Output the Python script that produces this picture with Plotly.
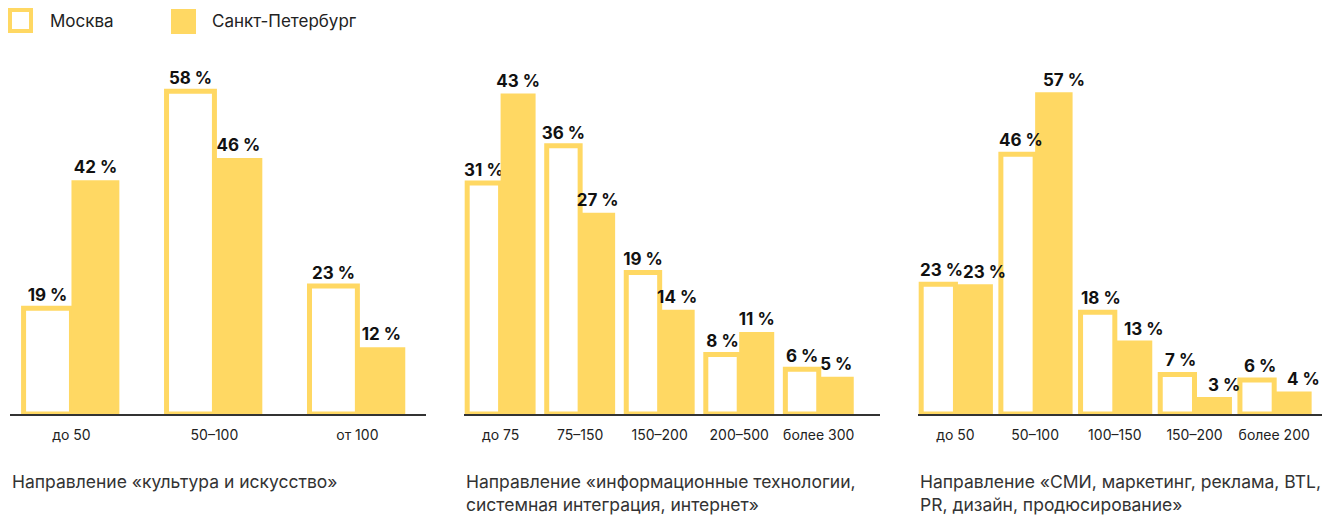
import plotly.graph_objects as go

# ---- data ----
series_names = ["Москва", "Санкт-Петербург"]

cats_culture = ["до 50", "50–100", "от 100"]
msk_culture = [19, 58, 23]
spb_culture = [42, 46, 12]
title_culture = "Направление «культура и искусство»"

cats_it = ["до 75", "75–150", "150–200", "200–500", "более 300"]
msk_it = [31, 36, 19, 8, 6]
spb_it = [43, 27, 14, 11, 5]
title_it = "Направление «информационные технологии,<br>системная интеграция, интернет»"

cats_media = ["до 50", "50–100", "100–150", "150–200", "более 200"]
msk_media = [23, 46, 18, 7, 6]
spb_media = [23, 57, 13, 3, 4]
title_media = "Направление «СМИ, маркетинг, реклама, BTL,<br>PR, дизайн, продюсирование»"

# ---- style ----
W, H = 1322, 515
YELLOW = "#FFD863"
FONT = "Inter"

panels = [
    dict(cats=cats_culture, msk=msk_culture, spb=spb_culture, title=title_culture,
         px=(10, 426), xr=[-0.43, 2.48], yr=[0, 63.6], wm=0.335, ws=0.335, ann=False),
    dict(cats=cats_it, msk=msk_it, spb=spb_it, title=title_it,
         px=(464, 880), xr=[-0.46, 4.77], yr=[0, 47.5], wm=0.42, ws=0.44, ann=False),
    dict(cats=cats_media, msk=msk_media, spb=spb_media, title=title_media,
         px=(918, 1322), xr=[-0.47, 4.6], yr=[0, 62.7], wm=0.43, ws=0.47, ann=True),
]

y_dom = [(H - 414) / H, (H - 60) / H]

fig = go.Figure()
layout = dict(
    width=W, height=H, margin=dict(l=0, r=0, t=0, b=0),
    paper_bgcolor="white", plot_bgcolor="white",
    showlegend=False, barmode="overlay",
    font=dict(family=FONT, color="#222"),
    shapes=[], annotations=[],
)

label_font = dict(family=FONT, size=17, color="#111", weight=700)

for i, p in enumerate(panels):
    n = "" if i == 0 else str(i + 1)
    xa, ya = "x" + n, "y" + n
    tt = None if p["ann"] else "%{y} %"
    fig.add_trace(go.Bar(
        x=p["cats"], y=p["msk"], name=series_names[0], xaxis=xa, yaxis=ya,
        width=p["wm"], offset=-p["wm"],
        marker=dict(color="white", line=dict(color=YELLOW, width=5)),
        texttemplate=tt, textposition="outside" if tt else "none", textfont=label_font,
        cliponaxis=False, constraintext="none", hoverinfo="skip",
    ))
    fig.add_trace(go.Bar(
        x=p["cats"], y=p["spb"], name=series_names[1], xaxis=xa, yaxis=ya,
        width=p["ws"], offset=0,
        marker=dict(color=YELLOW, line=dict(width=0)),
        texttemplate=tt, textposition="outside" if tt else "none", textfont=label_font,
        cliponaxis=False, constraintext="none", hoverinfo="skip",
    ))
    if p["ann"]:
        # value labels as annotations anchored to the data (slightly shifted like the original)
        for vals, dx, dy in ((p["msk"], -14, 2), (p["spb"], 29, 0)):
            for c, v in zip(p["cats"], vals):
                layout["annotations"].append(dict(
                    text=f"{v} %", xref=xa, yref=ya, x=c, y=v,
                    xanchor="center", yanchor="bottom", xshift=dx, yshift=dy,
                    showarrow=False, font=label_font,
                ))
    layout["xaxis" + n] = dict(
        domain=[p["px"][0] / W, p["px"][1] / W], anchor=ya,
        type="category", range=p["xr"],
        showline=True, linecolor="#333", linewidth=2,
        showgrid=False, zeroline=False, ticks="",
        tickfont=dict(family=FONT, size=14, color="#222"),
        ticklabelstandoff=7, fixedrange=True,
    )
    layout["yaxis" + n] = dict(
        domain=y_dom, anchor=xa, range=p["yr"],
        visible=False, showgrid=False, zeroline=False, fixedrange=True,
    )
    layout["annotations"].append(dict(
        text=p["title"], xref="paper", yref="paper",
        x=p["px"][0] / W, y=(H - 469) / H, xanchor="left", yanchor="top",
        align="left", showarrow=False,
        font=dict(family=FONT, size=17.5, color="#333"),
    ))

# ---- legend (drawn manually) ----
def px2paper(x, y):
    return x / W, 1 - y / H

x0, y0 = px2paper(10, 10); x1, y1 = px2paper(31, 31)
layout["shapes"].append(dict(type="rect", xref="paper", yref="paper",
                             x0=x0, y0=y0, x1=x1, y1=y1,
                             line=dict(color=YELLOW, width=4), fillcolor="white"))
x0, y0 = px2paper(171, 9); x1, y1 = px2paper(196, 34)
layout["shapes"].append(dict(type="rect", xref="paper", yref="paper",
                             x0=x0, y0=y0, x1=x1, y1=y1,
                             line=dict(width=0), fillcolor=YELLOW))
for name, lx in zip(series_names, [48, 210]):
    ax, ay = px2paper(lx, 21)
    layout["annotations"].append(dict(
        text=name, xref="paper", yref="paper", x=ax, y=ay,
        xanchor="left", yanchor="middle", showarrow=False,
        font=dict(family=FONT, size=17, color="#222"),
    ))

fig.update_layout(**layout)
fig.write_html(
    "out.html",
    config={"displayModeBar": False, "staticPlot": True},
    post_script="document.body.style.margin='0';document.body.style.overflow='hidden';",
)
